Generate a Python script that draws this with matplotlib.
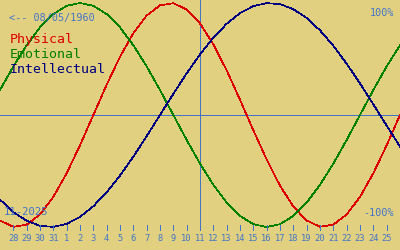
import matplotlib
matplotlib.use('Agg')
import matplotlib.pyplot as plt

# days shown: Oct 27 .. Nov 26 2025 (edges are only partly visible)
day_labels = ['27', '28', '29', '30', '31', '1', '2', '3', '4', '5', '6', '7', '8', '9', '10',
              '11', '12', '13', '14', '15', '16', '17', '18', '19', '20', '21', '22', '23',
              '24', '25', '26']
days = list(range(-1, 30))
today = 14  # Nov 11

physical = [-0.942, -0.998, -0.979, -0.888, -0.731, -0.520, -0.270, 0.0, 0.270, 0.520, 0.731,
            0.888, 0.979, 0.998, 0.942, 0.817, 0.631, 0.398, 0.136, -0.136, -0.398, -0.631,
            -0.817, -0.942, -0.998, -0.979, -0.888, -0.731, -0.520, -0.270, 0.0]
emotional = [0.223, 0.434, 0.623, 0.782, 0.901, 0.975, 1.0, 0.975, 0.901, 0.782, 0.623,
             0.434, 0.223, 0.0, -0.223, -0.434, -0.623, -0.782, -0.901, -0.975, -1.0, -0.975,
             -0.901, -0.782, -0.623, -0.434, -0.223, 0.0, 0.223, 0.434, 0.623]
intellectual = [-0.756, -0.866, -0.945, -0.990, -0.999, -0.972, -0.910, -0.815, -0.690, -0.541,
                -0.372, -0.189, 0.0, 0.189, 0.372, 0.541, 0.690, 0.815, 0.910, 0.972, 0.999,
                0.990, 0.945, 0.866, 0.756, 0.618, 0.458, 0.282, 0.095, -0.095, -0.282]

bg = '#e0d080'
blue = '#4474c8'
font = 'DejaVu Sans Mono'
lw = 0.5

fig = plt.figure(figsize=(4, 2.5), dpi=100, facecolor=bg)
ax = fig.add_axes([0, 0, 1, 1])
ax.set_facecolor(bg)
ax.axis('off')
ax.set_xlim(-1, 29)
ax.set_ylim(-135 / 112, 115 / 112)

def px(x, y):
    return x / 400, 1 - y / 250

# zero line and today marker
ax.axhline(0, color=blue, lw=lw, antialiased=False)
ax.axvline(today, ymin=px(0, 230)[1], ymax=1, color=blue, lw=lw, antialiased=False)

ax.plot(days, physical, color='#dd0000', lw=lw, antialiased=False)
ax.plot(days, emotional, color='#008000', lw=lw, antialiased=False)
ax.plot(days, intellectual, color='#000080', lw=lw, antialiased=False)

# day ticks along the bottom
tr = ax.get_xaxis_transform()
for d, lab in zip(days, day_labels):
    if d < 0 or d > 28:
        continue
    ax.plot([d, d], [px(0, 225)[1], px(0, 230)[1]], color=blue, lw=lw,
            antialiased=False, transform=tr)
    ax.text(d, px(0, 241)[1], lab, transform=tr, ha='center', va='baseline',
            color=blue, fontsize=6.3, family=font)

ax.text(*px(9, 21), '<-- 08/05/1960', transform=ax.transAxes, color=blue,
        fontsize=7.3, family=font, va='baseline')
ax.text(*px(10, 43), 'Physical', transform=ax.transAxes, color='#dd0000',
        fontsize=9.5, family=font, va='baseline')
ax.text(*px(10, 58), 'Emotional', transform=ax.transAxes, color='#008000',
        fontsize=9.5, family=font, va='baseline')
ax.text(*px(10, 73), 'Intellectual', transform=ax.transAxes, color='#000080',
        fontsize=9.5, family=font, va='baseline')
ax.text(*px(394, 16), '100%', transform=ax.transAxes, color=blue,
        fontsize=7.3, family=font, va='baseline', ha='right')
ax.text(*px(394, 216), '-100%', transform=ax.transAxes, color=blue,
        fontsize=7.3, family=font, va='baseline', ha='right')
ax.text(*px(4, 215), '11-2025', transform=ax.transAxes, color=blue,
        fontsize=7.6, family=font, va='baseline')

fig.savefig('out.png', dpi=100, facecolor=bg)
